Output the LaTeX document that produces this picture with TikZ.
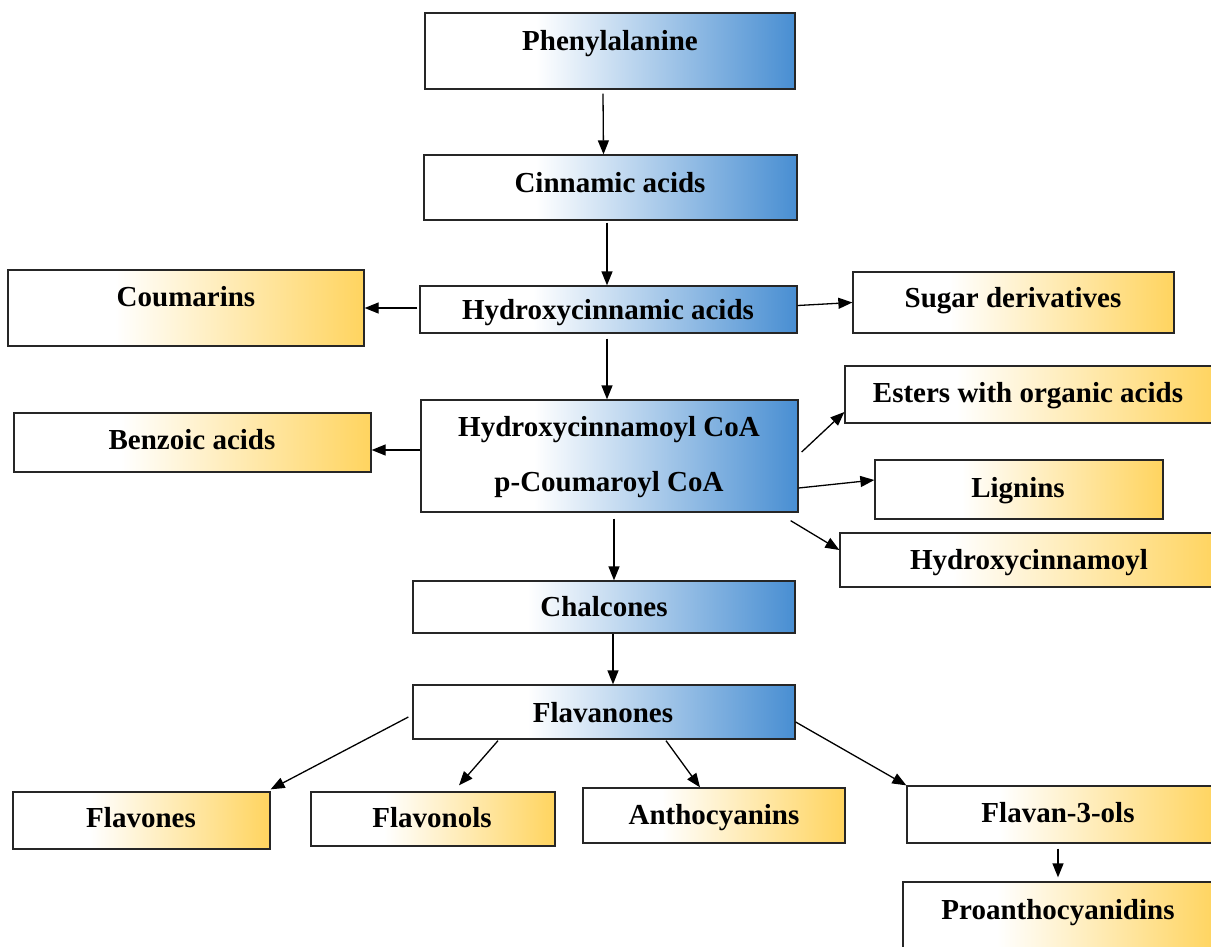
\documentclass[tikz,border=0pt]{standalone}
\usepackage{fontspec}
\setmainfont{Liberation Serif}
\usetikzlibrary{arrows.meta,fit}
\definecolor{myblue}{RGB}{72,142,210}
\definecolor{mygold}{RGB}{255,212,95}
\pgfdeclarehorizontalshading{blueshade}{100bp}{color(0bp)=(white); color(25bp)=(white); color(40bp)=(white); color(75bp)=(myblue); color(100bp)=(myblue)}
\pgfdeclarehorizontalshading{goldshade}{100bp}{color(0bp)=(white); color(25bp)=(white); color(40bp)=(white); color(75bp)=(mygold); color(100bp)=(mygold)}
\tikzset{
  box/.style={draw=black!85, line width=1.3pt, inner sep=0pt},
  bluebox/.style={box, shading=blueshade},
  goldbox/.style={box, shading=goldshade},
  lbl/.style={font=\bfseries\fontsize{29}{32}\selectfont, inner sep=0pt, anchor=base},
  arr/.style={-{Triangle[length=14pt,width=11pt]}, line width=1.3pt}
}
\begin{document}
\begin{tikzpicture}[x=1pt,y=-1pt]
\useasboundingbox (0,0) rectangle (1211,946);
% boxes
\node[bluebox, fit={(425,13)(795,89)}] (phe) {};
\node[bluebox, fit={(424,155)(797,220)}] (cin) {};
\node[goldbox, fit={(8,270)(364,346)}] (cou) {};
\node[bluebox, fit={(420,286)(797,333)}] (hca) {};
\node[goldbox, fit={(853,272)(1174,333)}] (sug) {};
\node[goldbox, fit={(845,366)(1216,423)}] (est) {};
\node[goldbox, fit={(14,413)(371,472)}] (ben) {};
\node[bluebox, fit={(421,400)(798,512)}] (hcoa) {};
\node[goldbox, fit={(875,460)(1163,519)}] (lig) {};
\node[goldbox, fit={(840,533)(1216,587)}] (hyd) {};
\node[bluebox, fit={(413,581)(795,633)}] (cha) {};
\node[bluebox, fit={(413,685)(795,739)}] (fla) {};
\node[goldbox, fit={(13,792)(270,849)}] (fns) {};
\node[goldbox, fit={(311,792)(555,846)}] (fnl) {};
\node[goldbox, fit={(583,788)(845,843)}] (ant) {};
\node[goldbox, fit={(907,786)(1216,843)}] (f3o) {};
\node[goldbox, fit={(903,882)(1216,952)}] (pro) {};
% labels
\node[lbl] (phe-t) at (610,50) {Phenylalanine};
\node[lbl] (cin-t) at (610,192) {Cinnamic acids};
\node[lbl] (cou-t) at (186,306) {Coumarins};
\node[lbl] (hca-t) at (608,319) {Hydroxycinnamic acids};
\node[lbl] (sug-t) at (1013,307) {Sugar derivatives};
\node[lbl] (est-t) at (1028,402) {Esters with organic acids};
\node[lbl] (ben-t) at (192,449) {Benzoic acids};
\node[lbl] (hcoa-t1) at (609,436) {Hydroxycinnamoyl CoA};
\node[lbl] (hcoa-t2) at (609,491) {p-Coumaroyl CoA};
\node[lbl] (lig-t) at (1018,497) {Lignins};
\node[lbl] (hyd-t) at (1029,569) {Hydroxycinnamoyl};
\node[lbl] (cha-t) at (604,616) {Chalcones};
\node[lbl] (fla-t) at (603,722) {Flavanones};
\node[lbl] (fns-t) at (141,827) {Flavones};
\node[lbl] (fnl-t) at (432,827) {Flavonols};
\node[lbl] (ant-t) at (714,824) {Anthocyanins};
\node[lbl] (f3o-t) at (1058,822) {Flavan-3-ols};
\node[lbl] (pro-t) at (1058,919) {Proanthocyanidins};
% arrows
\draw[arr] ([xshift=-7pt,yshift=-4pt]phe.south) -- ([xshift=-7pt]cin.north);
\draw[arr] ([xshift=-3.5pt,yshift=-2pt]cin.south) -- ([xshift=-1.5pt]hca.north);
\draw[arr] ([xshift=-2pt,yshift=1.5pt]hca.west) -- (cou.east);
\draw[arr] ([yshift=4pt]hca.east) -- (sug.west);
\draw[arr] ([xshift=-1.5pt,yshift=-5pt]hca.south) -- ([xshift=-2.5pt]hcoa.north);
\draw[arr] ([yshift=6pt]hcoa.west) -- ([yshift=-7.5pt]ben.east);
\draw[arr] ([xshift=3pt,yshift=4pt]hcoa.east) -- ([yshift=-17.5pt]est.west);
\draw[arr] ([yshift=-32pt]hcoa.east) -- ([yshift=9.5pt]lig.west);
\draw[arr] ([xshift=-8pt,yshift=-8pt]hcoa.south east) -- ([yshift=10pt]hyd.west);
\draw[arr] ([xshift=4.5pt,yshift=-6pt]hcoa.south) -- ([xshift=10pt]cha.north);
\draw[arr] ([xshift=9pt]cha.south) -- ([xshift=9pt]fla.north);
\draw[arr] ([xshift=-4pt,yshift=-5pt]fla.west) -- ([yshift=2pt]fns.north east);
\draw[arr] ([xshift=-106pt,yshift=-1pt]fla.south) -- ([xshift=26pt,yshift=6pt]fnl.north);
\draw[arr] ([xshift=62pt,yshift=-1pt]fla.south) -- ([xshift=-14pt]ant.north);
\draw[arr] ([yshift=-10pt]fla.east) -- (f3o.north west);
\draw[arr] ([xshift=-3.5pt,yshift=-5pt]f3o.south) -- ([xshift=-3.5pt,yshift=4pt]f3o.south |- pro.north);
\end{tikzpicture}
\end{document}
